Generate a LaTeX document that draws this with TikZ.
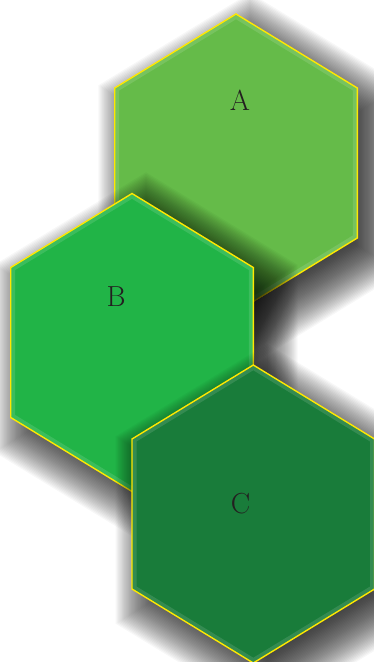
\documentclass[tikz,border=0pt]{standalone}
\usepackage{tikz}

\definecolor{hexA}{RGB}{101,187,73}
\definecolor{hexB}{RGB}{33,180,71}
\definecolor{hexC}{RGB}{25,124,58}
\definecolor{hexborder}{RGB}{255,232,0}
\definecolor{labelink}{RGB}{35,31,32}

% corners of one cell, around its centre
\newcommand{\hexoutline}{(0,-149) -- (121.3,-75) -- (121.3,75) -- (0,149) -- (-121.3,75) -- (-121.3,-75) -- cycle}

\begin{document}
\begin{tikzpicture}[
  x=1pt, y=-1pt,
  shadowlayer/.style={fill=black, opacity=0.03},
  hexrim/.style={draw=hexborder, line width=1.4pt, line join=miter},
  hexglow/.style={draw=white, opacity=0.12, line width=9pt},
  hexlabel/.style={font=\fontsize{29}{32}\selectfont, text=labelink, inner sep=0pt}
]
\useasboundingbox (0,0) rectangle (374,662);

% Hexagons with soft shadows
\foreach \cx/\cy/\col in {236/163/hexA, 132/342.5/hexB, 253.3/514/hexC} {
  \foreach \s in {0.78,0.79,...,1.255}
    \fill[shadowlayer, shift={(\cx+14,\cy+16)}, scale=\s] \hexoutline;
  \begin{scope}[shift={(\cx,\cy)}]
    \clip \hexoutline;
    \fill[\col] \hexoutline;
    \draw[hexglow] \hexoutline;
  \end{scope}
  \draw[hexrim, shift={(\cx,\cy)}] \hexoutline;
}

% Labels
\node[hexlabel] (labelA) at (240,100) {A};
\node[hexlabel] (labelB) at (116,297) {B};
\node[hexlabel] (labelC) at (240.5,503.5) {C};

\end{tikzpicture}
\end{document}
